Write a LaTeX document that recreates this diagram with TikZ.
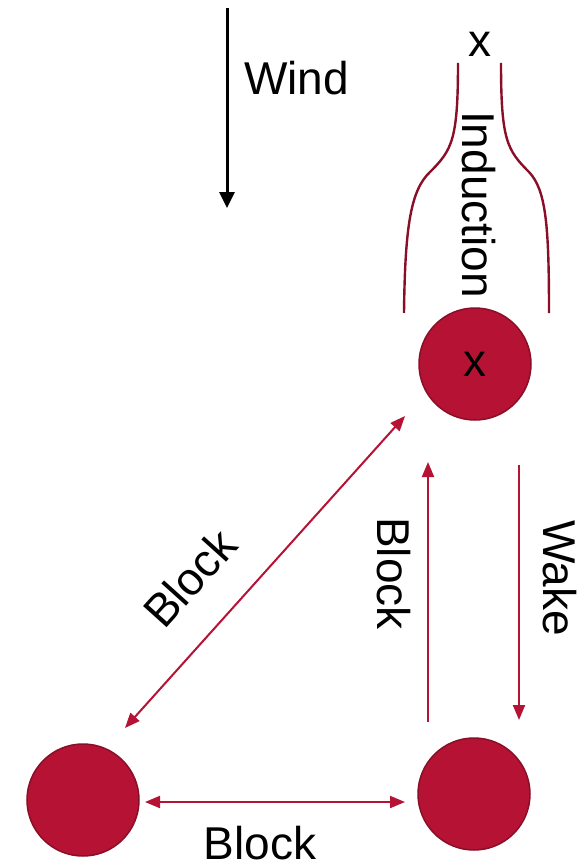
\documentclass[tikz,border=0pt]{standalone}
\usepackage{fontspec}
\setmainfont{Liberation Sans}
\usetikzlibrary{arrows.meta}
\definecolor{crimson}{RGB}{181,18,52}
\definecolor{darkcrimson}{RGB}{138,14,40}

\begin{document}
\begin{tikzpicture}[x=1pt,y=-1pt,
  turbine/.style={circle, fill=crimson, draw=darkcrimson, line width=1.5pt,
                  minimum size=112pt, inner sep=0pt},
  txt/.style={font=\fontsize{46}{55}\selectfont, inner sep=0pt},
  link/.style={draw=crimson, line width=2pt, -{Triangle[length=15pt,width=12pt]}},
  duplex/.style={draw=crimson, line width=2pt,
                 {Triangle[length=15pt,width=12pt]}-{Triangle[length=15pt,width=12pt]}},
  streamline/.style={draw=darkcrimson, line width=2.4pt},
  windarrow/.style={draw=black, line width=3pt, -{Triangle[length=16pt,width=15pt]}}]

\useasboundingbox (0,0) rectangle (583,864);

% turbines
\node[turbine, txt] (T1) at (475,364) {x};
\node[turbine] (T2) at (83,800) {};
\node[turbine] (T3) at (474,794) {};

% wind direction
\coordinate (w0) at (227,8);
\coordinate (w1) at (227,208);
\draw[windarrow] (w0) -- (w1);
\node[txt, anchor=base west] (wind) at (244,95) {Wind};

% upstream induction zone
\node[txt, anchor=base] (xtop) at (480,57) {x};
\draw[streamline] (458,63) .. controls (458,140) and (452,150) .. (430,172)
                  .. controls (411,190) and (405,225) .. (404,313);
\draw[streamline] (501,63) .. controls (501,140) and (507,150) .. (529,172)
                  .. controls (546,190) and (549,225) .. (549,313);
\node[txt, rotate=-90, anchor=base west] (induction) at (462,111) {Induction};

% interactions between turbines
\coordinate (d0) at (125,728);
\coordinate (d1) at (405,416);
\draw[duplex] (d0) -- (d1);
\node[txt, rotate=48, anchor=base] (block1) at (202,589) {Block};

\coordinate (u0) at (428,722);
\coordinate (u1) at (428,462);
\draw[link] (u0) -- (u1);
\node[txt, rotate=-90, anchor=base west] (block2) at (377,517) {Block};

\coordinate (k0) at (519,465);
\coordinate (k1) at (519,720);
\draw[link] (k0) -- (k1);
\node[txt, rotate=-90, anchor=base west] (wake) at (543,520) {Wake};

\coordinate (b0) at (145,802);
\coordinate (b1) at (405,802);
\draw[duplex] (b0) -- (b1);
\node[txt, anchor=base] (block3) at (260,859) {Block};
\end{tikzpicture}
\end{document}
